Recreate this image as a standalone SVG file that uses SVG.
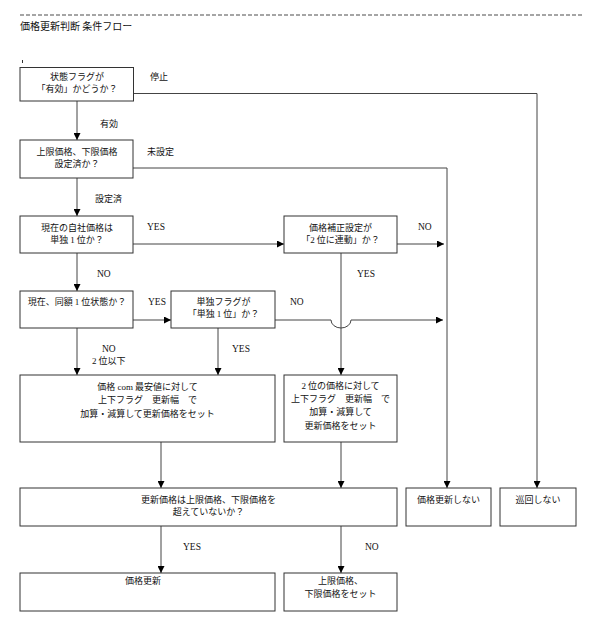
<svg xmlns="http://www.w3.org/2000/svg" width="600" height="636" viewBox="0 0 600 636">
<defs>
<marker id="arr" viewBox="0 0 8 8" refX="8" refY="4" markerWidth="7" markerHeight="7" markerUnits="userSpaceOnUse" orient="auto">
<path d="M0,0 L8,4 L0,8 z" fill="#000"/>
</marker>
<style>
.box{fill:#fff;stroke:#333;stroke-width:1}
.ln{fill:none;stroke:#444;stroke-width:1}
.ar{fill:none;stroke:#444;stroke-width:1;marker-end:url(#arr)}
.jp{font-family:"Noto Sans CJK JP","Noto Sans",sans-serif;font-size:9px;fill:#111}
.c{text-anchor:middle}
.sf{font-family:"Liberation Serif",serif;font-size:9.5px;fill:#111}
.d{font-family:"Liberation Serif",serif}
</style>
</defs>
<rect width="600" height="636" fill="#fff"/>
<line x1="20" y1="15" x2="583" y2="15" stroke="#888" stroke-width="1.5" stroke-dasharray="4,2"/>
<text x="20" y="30" class="jp" style="font-size:10px">価格更新判断 条件フロー</text>
<line x1="22.5" y1="60" x2="22.5" y2="63" stroke="#333" stroke-width="1"/>

<g id="connectors">
<polyline class="ar" points="133,93.5 537,93.5 537,488"/>
<line class="ar" x1="77" y1="101" x2="77" y2="140"/>
<polyline class="ar" points="133,168 447,168 447,488"/>
<line class="ar" x1="77" y1="178" x2="77" y2="216"/>
<line class="ar" x1="133" y1="244" x2="284" y2="244"/>
<line class="ar" x1="397" y1="244" x2="444" y2="244"/>
<line class="ar" x1="341" y1="253" x2="341" y2="375"/>
<line class="ar" x1="77" y1="253" x2="77" y2="291"/>
<line class="ar" x1="133" y1="320" x2="171" y2="320"/>
<path class="ar" d="M275,320 L331,320 A10,8 0 0 0 351,320 L443,320"/>
<line class="ar" x1="77" y1="328" x2="77" y2="375"/>
<line class="ar" x1="218" y1="328" x2="218" y2="375"/>
<line class="ar" x1="161" y1="442" x2="161" y2="488"/>
<line class="ar" x1="341" y1="442" x2="341" y2="488"/>
<line class="ar" x1="161" y1="526" x2="161" y2="573"/>
<line class="ar" x1="341" y1="526" x2="341" y2="573"/>
<text x="150" y="80" class="jp">停止</text>
<text x="100" y="127" class="jp">有効</text>
<text x="147" y="155" class="jp">未設定</text>
<text x="95" y="202" class="jp">設定済</text>
<text x="147" y="230" class="sf">YES</text>
<text x="418" y="230" class="sf">NO</text>
<text x="97" y="277" class="sf">NO</text>
<text x="357" y="277" class="sf">YES</text>
<text x="148" y="305" class="sf">YES</text>
<text x="290" y="305" class="sf">NO</text>
<text x="102" y="352" class="sf">NO</text>
<text x="92" y="364" class="jp"><tspan class="d">2</tspan> 位以下</text>
<text x="232" y="352" class="sf">YES</text>
<text x="183" y="550" class="sf">YES</text>
<text x="365" y="550" class="sf">NO</text>
</g>

<g id="n1">
<rect class="box" x="20" y="67.5" width="113.5" height="33.5"/>
<text x="77" y="80" class="jp c">状態フラグが</text>
<text x="77" y="92" class="jp c">「有効」かどうか？</text>
</g>
<g id="n2">
<rect class="box" x="20" y="140" width="113" height="38"/>
<text x="77" y="155" class="jp c">上限価格、下限価格</text>
<text x="77" y="167" class="jp c">設定済か？</text>
</g>
<g id="n3">
<rect class="box" x="20" y="216" width="113" height="37"/>
<text x="77" y="231" class="jp c">現在の自社価格は</text>
<text x="77" y="243" class="jp c">単独 <tspan class="d">1</tspan> 位か？</text>
</g>
<g id="n4">
<rect class="box" x="284" y="216" width="113" height="37"/>
<text x="340.5" y="231" class="jp c">価格補正設定が</text>
<text x="340.5" y="243" class="jp c">「<tspan class="d">2</tspan> 位に連動」か？</text>
</g>
<g id="n5">
<rect class="box" x="20" y="291" width="113" height="37"/>
<text x="77" y="305" class="jp c">現在、同額 <tspan class="d">1</tspan> 位状態か？</text>
</g>
<g id="n6">
<rect class="box" x="171" y="291" width="104" height="37"/>
<text x="223.5" y="305" class="jp c">単独フラグが</text>
<text x="223.5" y="317" class="jp c">「単独 <tspan class="d">1</tspan> 位」か？</text>
</g>
<g id="n7">
<rect class="box" x="20" y="375" width="255" height="67"/>
<text x="147.5" y="389.5" class="jp c">価格 <tspan class="d">com</tspan> 最安値に対して</text>
<text x="147.5" y="403" class="jp c">上下フラグ　更新幅　で</text>
<text x="147.5" y="416.5" class="jp c">加算・減算して更新価格をセット</text>
</g>
<g id="n8">
<rect class="box" x="284" y="375" width="113" height="67"/>
<text x="340.5" y="388.5" class="jp c"><tspan class="d">2</tspan> 位の価格に対して</text>
<text x="340.5" y="402" class="jp c">上下フラグ　更新幅　で</text>
<text x="340.5" y="415" class="jp c">加算・減算して</text>
<text x="340.5" y="428.5" class="jp c">更新価格をセット</text>
</g>
<g id="n9">
<rect class="box" x="20" y="488" width="377" height="38"/>
<text x="208.5" y="503" class="jp c">更新価格は上限価格、下限価格を</text>
<text x="208.5" y="515" class="jp c">超えていないか？</text>
</g>
<g id="n10">
<rect class="box" x="406" y="488" width="85" height="38"/>
<text x="448.5" y="503" class="jp c">価格更新しない</text>
</g>
<g id="n11">
<rect class="box" x="500" y="488" width="76" height="38"/>
<text x="538" y="503" class="jp c">巡回しない</text>
</g>
<g id="n12">
<rect class="box" x="20" y="573" width="255" height="38"/>
<text x="143" y="583.5" class="jp c">価格更新</text>
</g>
<g id="n13">
<rect class="box" x="284" y="573" width="113" height="38"/>
<text x="340.5" y="583.5" class="jp c">上限価格、</text>
<text x="340.5" y="597" class="jp c">下限価格をセット</text>
</g>
</svg>
